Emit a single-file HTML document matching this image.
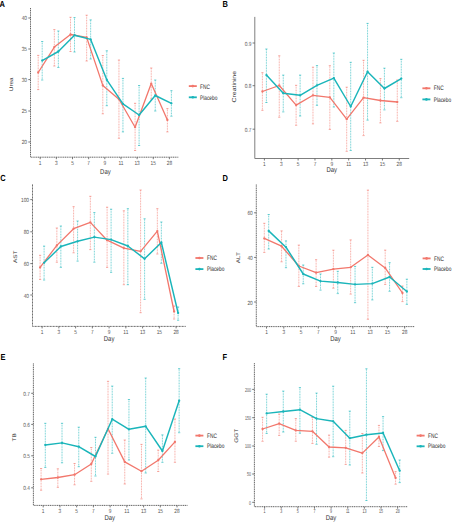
<!DOCTYPE html><html><head><meta charset="utf-8"><style>html,body{margin:0;padding:0;background:#fff;width:456px;height:525px;overflow:hidden}svg{display:block}text{font-family:"Liberation Sans",sans-serif;text-rendering:geometricPrecision}</style></head><body>
<svg width="456" height="525" viewBox="0 0 456 525">
<rect width="456" height="525" fill="#fff"/>
<line x1="38.2" y1="55.4" x2="38.2" y2="89.6" stroke="#F2776C" stroke-width="0.65" stroke-dasharray="0.9 0.7"/><path d="M37.1 55.4H39.3M37.1 89.6H39.3" stroke="#F2776C" stroke-width="0.6"/><line x1="54.35" y1="29.6" x2="54.35" y2="66" stroke="#F2776C" stroke-width="0.65" stroke-dasharray="0.9 0.7"/><path d="M53.25 29.6H55.45M53.25 66H55.45" stroke="#F2776C" stroke-width="0.6"/><line x1="70.5" y1="17.3" x2="70.5" y2="51.5" stroke="#F2776C" stroke-width="0.65" stroke-dasharray="0.9 0.7"/><path d="M69.4 17.3H71.6M69.4 51.5H71.6" stroke="#F2776C" stroke-width="0.6"/><line x1="86.65" y1="15.2" x2="86.65" y2="61" stroke="#F2776C" stroke-width="0.65" stroke-dasharray="0.9 0.7"/><path d="M85.55 15.2H87.75M85.55 61H87.75" stroke="#F2776C" stroke-width="0.6"/><line x1="102.8" y1="55.5" x2="102.8" y2="113.8" stroke="#F2776C" stroke-width="0.65" stroke-dasharray="0.9 0.7"/><path d="M101.7 55.5H103.9M101.7 113.8H103.9" stroke="#F2776C" stroke-width="0.6"/><line x1="118.95" y1="60" x2="118.95" y2="138.3" stroke="#F2776C" stroke-width="0.65" stroke-dasharray="0.9 0.7"/><path d="M117.85 60H120.05M117.85 138.3H120.05" stroke="#F2776C" stroke-width="0.6"/><line x1="135.1" y1="103.3" x2="135.1" y2="150.5" stroke="#F2776C" stroke-width="0.65" stroke-dasharray="0.9 0.7"/><path d="M134 103.3H136.2M134 150.5H136.2" stroke="#F2776C" stroke-width="0.6"/><line x1="151.25" y1="68" x2="151.25" y2="99" stroke="#F2776C" stroke-width="0.65" stroke-dasharray="0.9 0.7"/><path d="M150.15 68H152.35M150.15 99H152.35" stroke="#F2776C" stroke-width="0.6"/><line x1="167.4" y1="108.6" x2="167.4" y2="131.9" stroke="#F2776C" stroke-width="0.65" stroke-dasharray="0.9 0.7"/><path d="M166.3 108.6H168.5M166.3 131.9H168.5" stroke="#F2776C" stroke-width="0.6"/><line x1="42.2" y1="41.5" x2="42.2" y2="80" stroke="#1AB5BA" stroke-width="0.65" stroke-dasharray="0.9 0.7"/><path d="M41.1 41.5H43.3M41.1 80H43.3" stroke="#1AB5BA" stroke-width="0.6"/><line x1="58.35" y1="31" x2="58.35" y2="67.5" stroke="#1AB5BA" stroke-width="0.65" stroke-dasharray="0.9 0.7"/><path d="M57.25 31H59.45M57.25 67.5H59.45" stroke="#1AB5BA" stroke-width="0.6"/><line x1="74.5" y1="17.6" x2="74.5" y2="52" stroke="#1AB5BA" stroke-width="0.65" stroke-dasharray="0.9 0.7"/><path d="M73.4 17.6H75.6M73.4 52H75.6" stroke="#1AB5BA" stroke-width="0.6"/><line x1="90.65" y1="19.9" x2="90.65" y2="59" stroke="#1AB5BA" stroke-width="0.65" stroke-dasharray="0.9 0.7"/><path d="M89.55 19.9H91.75M89.55 59H91.75" stroke="#1AB5BA" stroke-width="0.6"/><line x1="106.8" y1="50.8" x2="106.8" y2="105.7" stroke="#1AB5BA" stroke-width="0.65" stroke-dasharray="0.9 0.7"/><path d="M105.7 50.8H107.9M105.7 105.7H107.9" stroke="#1AB5BA" stroke-width="0.6"/><line x1="122.95" y1="78.4" x2="122.95" y2="131.9" stroke="#1AB5BA" stroke-width="0.65" stroke-dasharray="0.9 0.7"/><path d="M121.85 78.4H124.05M121.85 131.9H124.05" stroke="#1AB5BA" stroke-width="0.6"/><line x1="139.1" y1="85.5" x2="139.1" y2="145.5" stroke="#1AB5BA" stroke-width="0.65" stroke-dasharray="0.9 0.7"/><path d="M138 85.5H140.2M138 145.5H140.2" stroke="#1AB5BA" stroke-width="0.6"/><line x1="155.25" y1="80" x2="155.25" y2="111" stroke="#1AB5BA" stroke-width="0.65" stroke-dasharray="0.9 0.7"/><path d="M154.15 80H156.35M154.15 111H156.35" stroke="#1AB5BA" stroke-width="0.6"/><line x1="171.4" y1="90.7" x2="171.4" y2="116.2" stroke="#1AB5BA" stroke-width="0.65" stroke-dasharray="0.9 0.7"/><path d="M170.3 90.7H172.5M170.3 116.2H172.5" stroke="#1AB5BA" stroke-width="0.6"/><polyline points="38.2,72.5 54.35,47.1 70.5,34.5 86.65,37.4 102.8,85.4 118.95,99.2 135.1,127.2 151.25,83.6 167.4,120" fill="none" stroke="#F2776C" stroke-width="1.3" stroke-linejoin="round"/><circle cx="38.2" cy="72.5" r="1.15" fill="#F2776C"/><circle cx="54.35" cy="47.1" r="1.15" fill="#F2776C"/><circle cx="70.5" cy="34.5" r="1.15" fill="#F2776C"/><circle cx="86.65" cy="37.4" r="1.15" fill="#F2776C"/><circle cx="102.8" cy="85.4" r="1.15" fill="#F2776C"/><circle cx="118.95" cy="99.2" r="1.15" fill="#F2776C"/><circle cx="135.1" cy="127.2" r="1.15" fill="#F2776C"/><circle cx="151.25" cy="83.6" r="1.15" fill="#F2776C"/><circle cx="167.4" cy="120" r="1.15" fill="#F2776C"/><polyline points="42.2,60.6 58.35,51.5 74.5,35.2 90.65,39.4 106.8,79.8 122.95,103.8 139.1,115 155.25,95.5 171.4,103.3" fill="none" stroke="#1AB5BA" stroke-width="1.45" stroke-linejoin="round"/><circle cx="42.2" cy="60.6" r="1.15" fill="#1AB5BA"/><circle cx="58.35" cy="51.5" r="1.15" fill="#1AB5BA"/><circle cx="74.5" cy="35.2" r="1.15" fill="#1AB5BA"/><circle cx="90.65" cy="39.4" r="1.15" fill="#1AB5BA"/><circle cx="106.8" cy="79.8" r="1.15" fill="#1AB5BA"/><circle cx="122.95" cy="103.8" r="1.15" fill="#1AB5BA"/><circle cx="139.1" cy="115" r="1.15" fill="#1AB5BA"/><circle cx="155.25" cy="95.5" r="1.15" fill="#1AB5BA"/><circle cx="171.4" cy="103.3" r="1.15" fill="#1AB5BA"/><path d="M30.5 8V157.2H178.6" fill="none" stroke="#555555" stroke-width="0.9" stroke-dasharray="1.2 0.6"/><line x1="28.3" y1="18" x2="30.5" y2="18" stroke="#555555" stroke-width="0.8"/><text transform="translate(27,19.9) scale(0.8,1)" font-size="6.0" fill="#555555" text-anchor="end">40</text><line x1="28.3" y1="49" x2="30.5" y2="49" stroke="#555555" stroke-width="0.8"/><text transform="translate(27,50.9) scale(0.8,1)" font-size="6.0" fill="#555555" text-anchor="end">35</text><line x1="28.3" y1="79.6" x2="30.5" y2="79.6" stroke="#555555" stroke-width="0.8"/><text transform="translate(27,81.5) scale(0.8,1)" font-size="6.0" fill="#555555" text-anchor="end">30</text><line x1="28.3" y1="111" x2="30.5" y2="111" stroke="#555555" stroke-width="0.8"/><text transform="translate(27,112.9) scale(0.8,1)" font-size="6.0" fill="#555555" text-anchor="end">25</text><line x1="28.3" y1="142" x2="30.5" y2="142" stroke="#555555" stroke-width="0.8"/><text transform="translate(27,143.9) scale(0.8,1)" font-size="6.0" fill="#555555" text-anchor="end">20</text><line x1="40.2" y1="157.2" x2="40.2" y2="159.2" stroke="#555555" stroke-width="0.8"/><text transform="translate(40.2,164.8) scale(0.8,1)" font-size="6.0" fill="#555555" text-anchor="middle">1</text><line x1="56.35" y1="157.2" x2="56.35" y2="159.2" stroke="#555555" stroke-width="0.8"/><text transform="translate(56.35,164.8) scale(0.8,1)" font-size="6.0" fill="#555555" text-anchor="middle">3</text><line x1="72.5" y1="157.2" x2="72.5" y2="159.2" stroke="#555555" stroke-width="0.8"/><text transform="translate(72.5,164.8) scale(0.8,1)" font-size="6.0" fill="#555555" text-anchor="middle">5</text><line x1="88.65" y1="157.2" x2="88.65" y2="159.2" stroke="#555555" stroke-width="0.8"/><text transform="translate(88.65,164.8) scale(0.8,1)" font-size="6.0" fill="#555555" text-anchor="middle">7</text><line x1="104.8" y1="157.2" x2="104.8" y2="159.2" stroke="#555555" stroke-width="0.8"/><text transform="translate(104.8,164.8) scale(0.8,1)" font-size="6.0" fill="#555555" text-anchor="middle">9</text><line x1="120.95" y1="157.2" x2="120.95" y2="159.2" stroke="#555555" stroke-width="0.8"/><text transform="translate(120.95,164.8) scale(0.8,1)" font-size="6.0" fill="#555555" text-anchor="middle">11</text><line x1="137.1" y1="157.2" x2="137.1" y2="159.2" stroke="#555555" stroke-width="0.8"/><text transform="translate(137.1,164.8) scale(0.8,1)" font-size="6.0" fill="#555555" text-anchor="middle">13</text><line x1="153.25" y1="157.2" x2="153.25" y2="159.2" stroke="#555555" stroke-width="0.8"/><text transform="translate(153.25,164.8) scale(0.8,1)" font-size="6.0" fill="#555555" text-anchor="middle">15</text><line x1="169.4" y1="157.2" x2="169.4" y2="159.2" stroke="#555555" stroke-width="0.8"/><text transform="translate(169.4,164.8) scale(0.8,1)" font-size="6.0" fill="#555555" text-anchor="middle">28</text><text transform="translate(105.4,173.8) scale(0.85,1)" font-size="7" fill="#333" text-anchor="middle">Day</text><text transform="translate(12.8,84.3) scale(0.82,1) rotate(-90)" font-size="6.4" fill="#333" text-anchor="middle">Urea</text><text transform="translate(-0.6,6.6) scale(0.85,1)" font-size="8.8" font-weight="bold" fill="#000">A</text><line x1="188.8" y1="86.1" x2="196.8" y2="86.1" stroke="#F2776C" stroke-width="1.8"/><circle cx="192.8" cy="86.1" r="1.3" fill="#F2776C"/><text transform="translate(200,88.7) scale(0.75,1)" font-size="6.4" fill="#2a2a2a">FNC</text><line x1="188.8" y1="97.3" x2="196.8" y2="97.3" stroke="#1AB5BA" stroke-width="1.8"/><circle cx="192.8" cy="97.3" r="1.3" fill="#1AB5BA"/><text transform="translate(200,99.9) scale(0.75,1)" font-size="6.4" fill="#2a2a2a">Placebo</text>
<line x1="262.4" y1="72.7" x2="262.4" y2="110.3" stroke="#F2776C" stroke-width="0.65" stroke-dasharray="0.9 0.7"/><path d="M261.3 72.7H263.5M261.3 110.3H263.5" stroke="#F2776C" stroke-width="0.6"/><line x1="279.26" y1="55.8" x2="279.26" y2="117.2" stroke="#F2776C" stroke-width="0.65" stroke-dasharray="0.9 0.7"/><path d="M278.16 55.8H280.36M278.16 117.2H280.36" stroke="#F2776C" stroke-width="0.6"/><line x1="296.12" y1="85.3" x2="296.12" y2="125.3" stroke="#F2776C" stroke-width="0.65" stroke-dasharray="0.9 0.7"/><path d="M295.02 85.3H297.22M295.02 125.3H297.22" stroke="#F2776C" stroke-width="0.6"/><line x1="312.98" y1="67.2" x2="312.98" y2="123.9" stroke="#F2776C" stroke-width="0.65" stroke-dasharray="0.9 0.7"/><path d="M311.88 67.2H314.08M311.88 123.9H314.08" stroke="#F2776C" stroke-width="0.6"/><line x1="329.84" y1="65.7" x2="329.84" y2="129.5" stroke="#F2776C" stroke-width="0.65" stroke-dasharray="0.9 0.7"/><path d="M328.74 65.7H330.94M328.74 129.5H330.94" stroke="#F2776C" stroke-width="0.6"/><line x1="346.7" y1="87.2" x2="346.7" y2="151.3" stroke="#F2776C" stroke-width="0.65" stroke-dasharray="0.9 0.7"/><path d="M345.6 87.2H347.8M345.6 151.3H347.8" stroke="#F2776C" stroke-width="0.6"/><line x1="363.56" y1="60.3" x2="363.56" y2="135.6" stroke="#F2776C" stroke-width="0.65" stroke-dasharray="0.9 0.7"/><path d="M362.46 60.3H364.66M362.46 135.6H364.66" stroke="#F2776C" stroke-width="0.6"/><line x1="380.42" y1="78.6" x2="380.42" y2="122.9" stroke="#F2776C" stroke-width="0.65" stroke-dasharray="0.9 0.7"/><path d="M379.32 78.6H381.52M379.32 122.9H381.52" stroke="#F2776C" stroke-width="0.6"/><line x1="397.28" y1="80" x2="397.28" y2="121.4" stroke="#F2776C" stroke-width="0.65" stroke-dasharray="0.9 0.7"/><path d="M396.18 80H398.38M396.18 121.4H398.38" stroke="#F2776C" stroke-width="0.6"/><line x1="266.4" y1="49" x2="266.4" y2="102.5" stroke="#1AB5BA" stroke-width="0.65" stroke-dasharray="0.9 0.7"/><path d="M265.3 49H267.5M265.3 102.5H267.5" stroke="#1AB5BA" stroke-width="0.6"/><line x1="283.26" y1="75.1" x2="283.26" y2="111.9" stroke="#1AB5BA" stroke-width="0.65" stroke-dasharray="0.9 0.7"/><path d="M282.16 75.1H284.36M282.16 111.9H284.36" stroke="#1AB5BA" stroke-width="0.6"/><line x1="300.12" y1="75.1" x2="300.12" y2="116" stroke="#1AB5BA" stroke-width="0.65" stroke-dasharray="0.9 0.7"/><path d="M299.02 75.1H301.22M299.02 116H301.22" stroke="#1AB5BA" stroke-width="0.6"/><line x1="316.98" y1="65.6" x2="316.98" y2="105.4" stroke="#1AB5BA" stroke-width="0.65" stroke-dasharray="0.9 0.7"/><path d="M315.88 65.6H318.08M315.88 105.4H318.08" stroke="#1AB5BA" stroke-width="0.6"/><line x1="333.84" y1="53" x2="333.84" y2="107" stroke="#1AB5BA" stroke-width="0.65" stroke-dasharray="0.9 0.7"/><path d="M332.74 53H334.94M332.74 107H334.94" stroke="#1AB5BA" stroke-width="0.6"/><line x1="350.7" y1="62.3" x2="350.7" y2="150.5" stroke="#1AB5BA" stroke-width="0.65" stroke-dasharray="0.9 0.7"/><path d="M349.6 62.3H351.8M349.6 150.5H351.8" stroke="#1AB5BA" stroke-width="0.6"/><line x1="367.56" y1="23.4" x2="367.56" y2="120.1" stroke="#1AB5BA" stroke-width="0.65" stroke-dasharray="0.9 0.7"/><path d="M366.46 23.4H368.66M366.46 120.1H368.66" stroke="#1AB5BA" stroke-width="0.6"/><line x1="384.42" y1="68.2" x2="384.42" y2="109.9" stroke="#1AB5BA" stroke-width="0.65" stroke-dasharray="0.9 0.7"/><path d="M383.32 68.2H385.52M383.32 109.9H385.52" stroke="#1AB5BA" stroke-width="0.6"/><line x1="401.28" y1="59.3" x2="401.28" y2="97.7" stroke="#1AB5BA" stroke-width="0.65" stroke-dasharray="0.9 0.7"/><path d="M400.18 59.3H402.38M400.18 97.7H402.38" stroke="#1AB5BA" stroke-width="0.6"/><polyline points="262.4,91.5 279.26,85.5 296.12,105.1 312.98,95.3 329.84,97.3 346.7,119.2 363.56,97.7 380.42,100.5 397.28,102" fill="none" stroke="#F2776C" stroke-width="1.3" stroke-linejoin="round"/><circle cx="262.4" cy="91.5" r="1.15" fill="#F2776C"/><circle cx="279.26" cy="85.5" r="1.15" fill="#F2776C"/><circle cx="296.12" cy="105.1" r="1.15" fill="#F2776C"/><circle cx="312.98" cy="95.3" r="1.15" fill="#F2776C"/><circle cx="329.84" cy="97.3" r="1.15" fill="#F2776C"/><circle cx="346.7" cy="119.2" r="1.15" fill="#F2776C"/><circle cx="363.56" cy="97.7" r="1.15" fill="#F2776C"/><circle cx="380.42" cy="100.5" r="1.15" fill="#F2776C"/><circle cx="397.28" cy="102" r="1.15" fill="#F2776C"/><polyline points="266.4,75.1 283.26,93.2 300.12,95.3 316.98,85.3 333.84,78.2 350.7,106.5 367.56,71.7 384.42,88.5 401.28,78.6" fill="none" stroke="#1AB5BA" stroke-width="1.45" stroke-linejoin="round"/><circle cx="266.4" cy="75.1" r="1.15" fill="#1AB5BA"/><circle cx="283.26" cy="93.2" r="1.15" fill="#1AB5BA"/><circle cx="300.12" cy="95.3" r="1.15" fill="#1AB5BA"/><circle cx="316.98" cy="85.3" r="1.15" fill="#1AB5BA"/><circle cx="333.84" cy="78.2" r="1.15" fill="#1AB5BA"/><circle cx="350.7" cy="106.5" r="1.15" fill="#1AB5BA"/><circle cx="367.56" cy="71.7" r="1.15" fill="#1AB5BA"/><circle cx="384.42" cy="88.5" r="1.15" fill="#1AB5BA"/><circle cx="401.28" cy="78.6" r="1.15" fill="#1AB5BA"/><path d="M254.8 16.9V158.5H409.2" fill="none" stroke="#707070" stroke-width="0.9" stroke-dasharray="none"/><line x1="252.6" y1="43" x2="254.8" y2="43" stroke="#555555" stroke-width="0.8"/><text transform="translate(251.3,45.6) scale(0.8,1)" font-size="6.0" fill="#555555" text-anchor="end">0.9</text><line x1="252.6" y1="85.7" x2="254.8" y2="85.7" stroke="#555555" stroke-width="0.8"/><text transform="translate(251.3,88.3) scale(0.8,1)" font-size="6.0" fill="#555555" text-anchor="end">0.8</text><line x1="252.6" y1="129.2" x2="254.8" y2="129.2" stroke="#555555" stroke-width="0.8"/><text transform="translate(251.3,131.8) scale(0.8,1)" font-size="6.0" fill="#555555" text-anchor="end">0.7</text><line x1="264.4" y1="158.5" x2="264.4" y2="160.5" stroke="#555555" stroke-width="0.8"/><text transform="translate(264.4,166.1) scale(0.8,1)" font-size="6.0" fill="#555555" text-anchor="middle">1</text><line x1="281.26" y1="158.5" x2="281.26" y2="160.5" stroke="#555555" stroke-width="0.8"/><text transform="translate(281.26,166.1) scale(0.8,1)" font-size="6.0" fill="#555555" text-anchor="middle">3</text><line x1="298.12" y1="158.5" x2="298.12" y2="160.5" stroke="#555555" stroke-width="0.8"/><text transform="translate(298.12,166.1) scale(0.8,1)" font-size="6.0" fill="#555555" text-anchor="middle">5</text><line x1="314.98" y1="158.5" x2="314.98" y2="160.5" stroke="#555555" stroke-width="0.8"/><text transform="translate(314.98,166.1) scale(0.8,1)" font-size="6.0" fill="#555555" text-anchor="middle">7</text><line x1="331.84" y1="158.5" x2="331.84" y2="160.5" stroke="#555555" stroke-width="0.8"/><text transform="translate(331.84,166.1) scale(0.8,1)" font-size="6.0" fill="#555555" text-anchor="middle">9</text><line x1="348.7" y1="158.5" x2="348.7" y2="160.5" stroke="#555555" stroke-width="0.8"/><text transform="translate(348.7,166.1) scale(0.8,1)" font-size="6.0" fill="#555555" text-anchor="middle">11</text><line x1="365.56" y1="158.5" x2="365.56" y2="160.5" stroke="#555555" stroke-width="0.8"/><text transform="translate(365.56,166.1) scale(0.8,1)" font-size="6.0" fill="#555555" text-anchor="middle">13</text><line x1="382.42" y1="158.5" x2="382.42" y2="160.5" stroke="#555555" stroke-width="0.8"/><text transform="translate(382.42,166.1) scale(0.8,1)" font-size="6.0" fill="#555555" text-anchor="middle">15</text><line x1="399.28" y1="158.5" x2="399.28" y2="160.5" stroke="#555555" stroke-width="0.8"/><text transform="translate(399.28,166.1) scale(0.8,1)" font-size="6.0" fill="#555555" text-anchor="middle">28</text><text transform="translate(331.7,172.4) scale(0.85,1)" font-size="7" fill="#333" text-anchor="middle">Day</text><text transform="translate(235.8,86.7) scale(0.82,1) rotate(-90)" font-size="6.9" fill="#333" text-anchor="middle">Creatinine</text><text transform="translate(222.6,7) scale(0.85,1)" font-size="8.8" font-weight="bold" fill="#000">B</text><line x1="422.4" y1="88.3" x2="430.4" y2="88.3" stroke="#F2776C" stroke-width="1.8"/><circle cx="426.4" cy="88.3" r="1.3" fill="#F2776C"/><text transform="translate(433.8,90.4) scale(0.75,1)" font-size="6.4" fill="#2a2a2a">FNC</text><line x1="422.4" y1="99.4" x2="430.4" y2="99.4" stroke="#1AB5BA" stroke-width="1.8"/><circle cx="426.4" cy="99.4" r="1.3" fill="#1AB5BA"/><text transform="translate(433.8,101.5) scale(0.75,1)" font-size="6.4" fill="#2a2a2a">Placebo</text>
<line x1="40.1" y1="255.3" x2="40.1" y2="279.5" stroke="#F2776C" stroke-width="0.65" stroke-dasharray="0.9 0.7"/><path d="M39 255.3H41.2M39 279.5H41.2" stroke="#F2776C" stroke-width="0.6"/><line x1="56.85" y1="228" x2="56.85" y2="262.2" stroke="#F2776C" stroke-width="0.65" stroke-dasharray="0.9 0.7"/><path d="M55.75 228H57.95M55.75 262.2H57.95" stroke="#F2776C" stroke-width="0.6"/><line x1="73.6" y1="206.7" x2="73.6" y2="252.8" stroke="#F2776C" stroke-width="0.65" stroke-dasharray="0.9 0.7"/><path d="M72.5 206.7H74.7M72.5 252.8H74.7" stroke="#F2776C" stroke-width="0.6"/><line x1="90.35" y1="196.3" x2="90.35" y2="249.6" stroke="#F2776C" stroke-width="0.65" stroke-dasharray="0.9 0.7"/><path d="M89.25 196.3H91.45M89.25 249.6H91.45" stroke="#F2776C" stroke-width="0.6"/><line x1="107.1" y1="207.2" x2="107.1" y2="267.4" stroke="#F2776C" stroke-width="0.65" stroke-dasharray="0.9 0.7"/><path d="M106 207.2H108.2M106 267.4H108.2" stroke="#F2776C" stroke-width="0.6"/><line x1="123.85" y1="210.8" x2="123.85" y2="284.7" stroke="#F2776C" stroke-width="0.65" stroke-dasharray="0.9 0.7"/><path d="M122.75 210.8H124.95M122.75 284.7H124.95" stroke="#F2776C" stroke-width="0.6"/><line x1="140.6" y1="190" x2="140.6" y2="312.7" stroke="#F2776C" stroke-width="0.65" stroke-dasharray="0.9 0.7"/><path d="M139.5 190H141.7M139.5 312.7H141.7" stroke="#F2776C" stroke-width="0.6"/><line x1="157.35" y1="208.7" x2="157.35" y2="254" stroke="#F2776C" stroke-width="0.65" stroke-dasharray="0.9 0.7"/><path d="M156.25 208.7H158.45M156.25 254H158.45" stroke="#F2776C" stroke-width="0.6"/><line x1="174.1" y1="306" x2="174.1" y2="319" stroke="#F2776C" stroke-width="0.65" stroke-dasharray="0.9 0.7"/><path d="M173 306H175.2M173 319H175.2" stroke="#F2776C" stroke-width="0.6"/><line x1="44.1" y1="246.1" x2="44.1" y2="280" stroke="#1AB5BA" stroke-width="0.65" stroke-dasharray="0.9 0.7"/><path d="M43 246.1H45.2M43 280H45.2" stroke="#1AB5BA" stroke-width="0.6"/><line x1="60.85" y1="226" x2="60.85" y2="267.4" stroke="#1AB5BA" stroke-width="0.65" stroke-dasharray="0.9 0.7"/><path d="M59.75 226H61.95M59.75 267.4H61.95" stroke="#1AB5BA" stroke-width="0.6"/><line x1="77.6" y1="221" x2="77.6" y2="261.1" stroke="#1AB5BA" stroke-width="0.65" stroke-dasharray="0.9 0.7"/><path d="M76.5 221H78.7M76.5 261.1H78.7" stroke="#1AB5BA" stroke-width="0.6"/><line x1="94.35" y1="212.6" x2="94.35" y2="262.2" stroke="#1AB5BA" stroke-width="0.65" stroke-dasharray="0.9 0.7"/><path d="M93.25 212.6H95.45M93.25 262.2H95.45" stroke="#1AB5BA" stroke-width="0.6"/><line x1="111.1" y1="209.2" x2="111.1" y2="272.3" stroke="#1AB5BA" stroke-width="0.65" stroke-dasharray="0.9 0.7"/><path d="M110 209.2H112.2M110 272.3H112.2" stroke="#1AB5BA" stroke-width="0.6"/><line x1="127.85" y1="208.7" x2="127.85" y2="284.7" stroke="#1AB5BA" stroke-width="0.65" stroke-dasharray="0.9 0.7"/><path d="M126.75 208.7H128.95M126.75 284.7H128.95" stroke="#1AB5BA" stroke-width="0.6"/><line x1="144.6" y1="218.8" x2="144.6" y2="299.3" stroke="#1AB5BA" stroke-width="0.65" stroke-dasharray="0.9 0.7"/><path d="M143.5 218.8H145.7M143.5 299.3H145.7" stroke="#1AB5BA" stroke-width="0.6"/><line x1="161.35" y1="222" x2="161.35" y2="263.3" stroke="#1AB5BA" stroke-width="0.65" stroke-dasharray="0.9 0.7"/><path d="M160.25 222H162.45M160.25 263.3H162.45" stroke="#1AB5BA" stroke-width="0.6"/><line x1="178.1" y1="307" x2="178.1" y2="320.2" stroke="#1AB5BA" stroke-width="0.65" stroke-dasharray="0.9 0.7"/><path d="M177 307H179.2M177 320.2H179.2" stroke="#1AB5BA" stroke-width="0.6"/><polyline points="40.1,267.4 56.85,245.4 73.6,228.7 90.35,222.4 107.1,240.2 123.85,248.1 140.6,251.3 157.35,231.1 174.1,311.5" fill="none" stroke="#F2776C" stroke-width="1.3" stroke-linejoin="round"/><circle cx="40.1" cy="267.4" r="1.15" fill="#F2776C"/><circle cx="56.85" cy="245.4" r="1.15" fill="#F2776C"/><circle cx="73.6" cy="228.7" r="1.15" fill="#F2776C"/><circle cx="90.35" cy="222.4" r="1.15" fill="#F2776C"/><circle cx="107.1" cy="240.2" r="1.15" fill="#F2776C"/><circle cx="123.85" cy="248.1" r="1.15" fill="#F2776C"/><circle cx="140.6" cy="251.3" r="1.15" fill="#F2776C"/><circle cx="157.35" cy="231.1" r="1.15" fill="#F2776C"/><circle cx="174.1" cy="311.5" r="1.15" fill="#F2776C"/><polyline points="44.1,262.8 60.85,246.5 77.6,241.3 94.35,237.1 111.1,239.6 127.85,246 144.6,258.8 161.35,242.5 178.1,313" fill="none" stroke="#1AB5BA" stroke-width="1.45" stroke-linejoin="round"/><circle cx="44.1" cy="262.8" r="1.15" fill="#1AB5BA"/><circle cx="60.85" cy="246.5" r="1.15" fill="#1AB5BA"/><circle cx="77.6" cy="241.3" r="1.15" fill="#1AB5BA"/><circle cx="94.35" cy="237.1" r="1.15" fill="#1AB5BA"/><circle cx="111.1" cy="239.6" r="1.15" fill="#1AB5BA"/><circle cx="127.85" cy="246" r="1.15" fill="#1AB5BA"/><circle cx="144.6" cy="258.8" r="1.15" fill="#1AB5BA"/><circle cx="161.35" cy="242.5" r="1.15" fill="#1AB5BA"/><circle cx="178.1" cy="313" r="1.15" fill="#1AB5BA"/><path d="M32.5 184.4V326.4H185.8" fill="none" stroke="#606060" stroke-width="0.9" stroke-dasharray="2.2 0.8"/><line x1="30.3" y1="199.6" x2="32.5" y2="199.6" stroke="#555555" stroke-width="0.8"/><text transform="translate(29,202.2) scale(0.8,1)" font-size="6.0" fill="#555555" text-anchor="end">100</text><line x1="30.3" y1="231.8" x2="32.5" y2="231.8" stroke="#555555" stroke-width="0.8"/><text transform="translate(29,234.4) scale(0.8,1)" font-size="6.0" fill="#555555" text-anchor="end">80</text><line x1="30.3" y1="263.6" x2="32.5" y2="263.6" stroke="#555555" stroke-width="0.8"/><text transform="translate(29,266.2) scale(0.8,1)" font-size="6.0" fill="#555555" text-anchor="end">60</text><line x1="30.3" y1="295" x2="32.5" y2="295" stroke="#555555" stroke-width="0.8"/><text transform="translate(29,297.6) scale(0.8,1)" font-size="6.0" fill="#555555" text-anchor="end">40</text><line x1="42.1" y1="326.4" x2="42.1" y2="328.4" stroke="#555555" stroke-width="0.8"/><text transform="translate(42.1,334) scale(0.8,1)" font-size="6.0" fill="#555555" text-anchor="middle">1</text><line x1="58.85" y1="326.4" x2="58.85" y2="328.4" stroke="#555555" stroke-width="0.8"/><text transform="translate(58.85,334) scale(0.8,1)" font-size="6.0" fill="#555555" text-anchor="middle">3</text><line x1="75.6" y1="326.4" x2="75.6" y2="328.4" stroke="#555555" stroke-width="0.8"/><text transform="translate(75.6,334) scale(0.8,1)" font-size="6.0" fill="#555555" text-anchor="middle">5</text><line x1="92.35" y1="326.4" x2="92.35" y2="328.4" stroke="#555555" stroke-width="0.8"/><text transform="translate(92.35,334) scale(0.8,1)" font-size="6.0" fill="#555555" text-anchor="middle">7</text><line x1="109.1" y1="326.4" x2="109.1" y2="328.4" stroke="#555555" stroke-width="0.8"/><text transform="translate(109.1,334) scale(0.8,1)" font-size="6.0" fill="#555555" text-anchor="middle">9</text><line x1="125.85" y1="326.4" x2="125.85" y2="328.4" stroke="#555555" stroke-width="0.8"/><text transform="translate(125.85,334) scale(0.8,1)" font-size="6.0" fill="#555555" text-anchor="middle">11</text><line x1="142.6" y1="326.4" x2="142.6" y2="328.4" stroke="#555555" stroke-width="0.8"/><text transform="translate(142.6,334) scale(0.8,1)" font-size="6.0" fill="#555555" text-anchor="middle">13</text><line x1="159.35" y1="326.4" x2="159.35" y2="328.4" stroke="#555555" stroke-width="0.8"/><text transform="translate(159.35,334) scale(0.8,1)" font-size="6.0" fill="#555555" text-anchor="middle">15</text><line x1="176.1" y1="326.4" x2="176.1" y2="328.4" stroke="#555555" stroke-width="0.8"/><text transform="translate(176.1,334) scale(0.8,1)" font-size="6.0" fill="#555555" text-anchor="middle">28</text><text transform="translate(109.1,341.2) scale(0.85,1)" font-size="7" fill="#333" text-anchor="middle">Day</text><text transform="translate(16.8,256.9) scale(0.82,1) rotate(-90)" font-size="6.4" fill="#333" text-anchor="middle">AST</text><text transform="translate(0.3,180.9) scale(0.85,1)" font-size="8.8" font-weight="bold" fill="#000">C</text><line x1="195.4" y1="258" x2="203.4" y2="258" stroke="#F2776C" stroke-width="1.8"/><circle cx="199.4" cy="258" r="1.3" fill="#F2776C"/><text transform="translate(207,260.1) scale(0.75,1)" font-size="6.4" fill="#2a2a2a">FNC</text><line x1="195.4" y1="269.1" x2="203.4" y2="269.1" stroke="#1AB5BA" stroke-width="1.8"/><circle cx="199.4" cy="269.1" r="1.3" fill="#1AB5BA"/><text transform="translate(207,271.2) scale(0.75,1)" font-size="6.4" fill="#2a2a2a">Placebo</text>
<line x1="264.3" y1="223.3" x2="264.3" y2="252.4" stroke="#F2776C" stroke-width="0.65" stroke-dasharray="0.9 0.7"/><path d="M263.2 223.3H265.4M263.2 252.4H265.4" stroke="#F2776C" stroke-width="0.6"/><line x1="281.57" y1="230.9" x2="281.57" y2="261.8" stroke="#F2776C" stroke-width="0.65" stroke-dasharray="0.9 0.7"/><path d="M280.47 230.9H282.67M280.47 261.8H282.67" stroke="#F2776C" stroke-width="0.6"/><line x1="298.84" y1="245.1" x2="298.84" y2="286.5" stroke="#F2776C" stroke-width="0.65" stroke-dasharray="0.9 0.7"/><path d="M297.74 245.1H299.94M297.74 286.5H299.94" stroke="#F2776C" stroke-width="0.6"/><line x1="316.11" y1="259.7" x2="316.11" y2="286.5" stroke="#F2776C" stroke-width="0.65" stroke-dasharray="0.9 0.7"/><path d="M315.01 259.7H317.21M315.01 286.5H317.21" stroke="#F2776C" stroke-width="0.6"/><line x1="333.38" y1="250.2" x2="333.38" y2="288.2" stroke="#F2776C" stroke-width="0.65" stroke-dasharray="0.9 0.7"/><path d="M332.28 250.2H334.48M332.28 288.2H334.48" stroke="#F2776C" stroke-width="0.6"/><line x1="350.65" y1="239.9" x2="350.65" y2="294.1" stroke="#F2776C" stroke-width="0.65" stroke-dasharray="0.9 0.7"/><path d="M349.55 239.9H351.75M349.55 294.1H351.75" stroke="#F2776C" stroke-width="0.6"/><line x1="367.92" y1="190.1" x2="367.92" y2="319.3" stroke="#F2776C" stroke-width="0.65" stroke-dasharray="0.9 0.7"/><path d="M366.82 190.1H369.02M366.82 319.3H369.02" stroke="#F2776C" stroke-width="0.6"/><line x1="385.19" y1="250.1" x2="385.19" y2="284.4" stroke="#F2776C" stroke-width="0.65" stroke-dasharray="0.9 0.7"/><path d="M384.09 250.1H386.29M384.09 284.4H386.29" stroke="#F2776C" stroke-width="0.6"/><line x1="402.46" y1="286" x2="402.46" y2="301.6" stroke="#F2776C" stroke-width="0.65" stroke-dasharray="0.9 0.7"/><path d="M401.36 286H403.56M401.36 301.6H403.56" stroke="#F2776C" stroke-width="0.6"/><line x1="268.7" y1="214.5" x2="268.7" y2="249" stroke="#1AB5BA" stroke-width="0.65" stroke-dasharray="0.9 0.7"/><path d="M267.6 214.5H269.8M267.6 249H269.8" stroke="#1AB5BA" stroke-width="0.6"/><line x1="285.97" y1="240.9" x2="285.97" y2="267.7" stroke="#1AB5BA" stroke-width="0.65" stroke-dasharray="0.9 0.7"/><path d="M284.87 240.9H287.07M284.87 267.7H287.07" stroke="#1AB5BA" stroke-width="0.6"/><line x1="303.24" y1="265" x2="303.24" y2="283.8" stroke="#1AB5BA" stroke-width="0.65" stroke-dasharray="0.9 0.7"/><path d="M302.14 265H304.34M302.14 283.8H304.34" stroke="#1AB5BA" stroke-width="0.6"/><line x1="320.51" y1="274" x2="320.51" y2="290.1" stroke="#1AB5BA" stroke-width="0.65" stroke-dasharray="0.9 0.7"/><path d="M319.41 274H321.61M319.41 290.1H321.61" stroke="#1AB5BA" stroke-width="0.6"/><line x1="337.78" y1="271.3" x2="337.78" y2="293.6" stroke="#1AB5BA" stroke-width="0.65" stroke-dasharray="0.9 0.7"/><path d="M336.68 271.3H338.88M336.68 293.6H338.88" stroke="#1AB5BA" stroke-width="0.6"/><line x1="355.05" y1="266.4" x2="355.05" y2="302.7" stroke="#1AB5BA" stroke-width="0.65" stroke-dasharray="0.9 0.7"/><path d="M353.95 266.4H356.15M353.95 302.7H356.15" stroke="#1AB5BA" stroke-width="0.6"/><line x1="372.32" y1="267.3" x2="372.32" y2="299.9" stroke="#1AB5BA" stroke-width="0.65" stroke-dasharray="0.9 0.7"/><path d="M371.22 267.3H373.42M371.22 299.9H373.42" stroke="#1AB5BA" stroke-width="0.6"/><line x1="389.59" y1="262.7" x2="389.59" y2="291.3" stroke="#1AB5BA" stroke-width="0.65" stroke-dasharray="0.9 0.7"/><path d="M388.49 262.7H390.69M388.49 291.3H390.69" stroke="#1AB5BA" stroke-width="0.6"/><line x1="406.86" y1="279.2" x2="406.86" y2="304.4" stroke="#1AB5BA" stroke-width="0.65" stroke-dasharray="0.9 0.7"/><path d="M405.76 279.2H407.96M405.76 304.4H407.96" stroke="#1AB5BA" stroke-width="0.6"/><polyline points="264.3,238.4 281.57,246.2 298.84,266 316.11,272.7 333.38,269.2 350.65,267.3 367.92,255 385.19,267.9 402.46,293" fill="none" stroke="#F2776C" stroke-width="1.3" stroke-linejoin="round"/><circle cx="264.3" cy="238.4" r="1.15" fill="#F2776C"/><circle cx="281.57" cy="246.2" r="1.15" fill="#F2776C"/><circle cx="298.84" cy="266" r="1.15" fill="#F2776C"/><circle cx="316.11" cy="272.7" r="1.15" fill="#F2776C"/><circle cx="333.38" cy="269.2" r="1.15" fill="#F2776C"/><circle cx="350.65" cy="267.3" r="1.15" fill="#F2776C"/><circle cx="367.92" cy="255" r="1.15" fill="#F2776C"/><circle cx="385.19" cy="267.9" r="1.15" fill="#F2776C"/><circle cx="402.46" cy="293" r="1.15" fill="#F2776C"/><polyline points="268.7,230.9 285.97,247.2 303.24,274 320.51,281.1 337.78,282.5 355.05,284.4 372.32,283.6 389.59,277 406.86,291.5" fill="none" stroke="#1AB5BA" stroke-width="1.45" stroke-linejoin="round"/><circle cx="268.7" cy="230.9" r="1.15" fill="#1AB5BA"/><circle cx="285.97" cy="247.2" r="1.15" fill="#1AB5BA"/><circle cx="303.24" cy="274" r="1.15" fill="#1AB5BA"/><circle cx="320.51" cy="281.1" r="1.15" fill="#1AB5BA"/><circle cx="337.78" cy="282.5" r="1.15" fill="#1AB5BA"/><circle cx="355.05" cy="284.4" r="1.15" fill="#1AB5BA"/><circle cx="372.32" cy="283.6" r="1.15" fill="#1AB5BA"/><circle cx="389.59" cy="277" r="1.15" fill="#1AB5BA"/><circle cx="406.86" cy="291.5" r="1.15" fill="#1AB5BA"/><path d="M256.3 184.5V326.6H414.4" fill="none" stroke="#555555" stroke-width="0.9" stroke-dasharray="1.2 0.6"/><line x1="254.1" y1="212.8" x2="256.3" y2="212.8" stroke="#555555" stroke-width="0.8"/><text transform="translate(252.8,215.4) scale(0.8,1)" font-size="6.0" fill="#555555" text-anchor="end">60</text><line x1="254.1" y1="257.4" x2="256.3" y2="257.4" stroke="#555555" stroke-width="0.8"/><text transform="translate(252.8,260) scale(0.8,1)" font-size="6.0" fill="#555555" text-anchor="end">40</text><line x1="254.1" y1="302" x2="256.3" y2="302" stroke="#555555" stroke-width="0.8"/><text transform="translate(252.8,304.6) scale(0.8,1)" font-size="6.0" fill="#555555" text-anchor="end">20</text><line x1="266.5" y1="326.6" x2="266.5" y2="328.6" stroke="#555555" stroke-width="0.8"/><text transform="translate(266.5,334.2) scale(0.8,1)" font-size="6.0" fill="#555555" text-anchor="middle">1</text><line x1="283.77" y1="326.6" x2="283.77" y2="328.6" stroke="#555555" stroke-width="0.8"/><text transform="translate(283.77,334.2) scale(0.8,1)" font-size="6.0" fill="#555555" text-anchor="middle">3</text><line x1="301.04" y1="326.6" x2="301.04" y2="328.6" stroke="#555555" stroke-width="0.8"/><text transform="translate(301.04,334.2) scale(0.8,1)" font-size="6.0" fill="#555555" text-anchor="middle">5</text><line x1="318.31" y1="326.6" x2="318.31" y2="328.6" stroke="#555555" stroke-width="0.8"/><text transform="translate(318.31,334.2) scale(0.8,1)" font-size="6.0" fill="#555555" text-anchor="middle">7</text><line x1="335.58" y1="326.6" x2="335.58" y2="328.6" stroke="#555555" stroke-width="0.8"/><text transform="translate(335.58,334.2) scale(0.8,1)" font-size="6.0" fill="#555555" text-anchor="middle">9</text><line x1="352.85" y1="326.6" x2="352.85" y2="328.6" stroke="#555555" stroke-width="0.8"/><text transform="translate(352.85,334.2) scale(0.8,1)" font-size="6.0" fill="#555555" text-anchor="middle">11</text><line x1="370.12" y1="326.6" x2="370.12" y2="328.6" stroke="#555555" stroke-width="0.8"/><text transform="translate(370.12,334.2) scale(0.8,1)" font-size="6.0" fill="#555555" text-anchor="middle">13</text><line x1="387.39" y1="326.6" x2="387.39" y2="328.6" stroke="#555555" stroke-width="0.8"/><text transform="translate(387.39,334.2) scale(0.8,1)" font-size="6.0" fill="#555555" text-anchor="middle">15</text><line x1="404.66" y1="326.6" x2="404.66" y2="328.6" stroke="#555555" stroke-width="0.8"/><text transform="translate(404.66,334.2) scale(0.8,1)" font-size="6.0" fill="#555555" text-anchor="middle">28</text><text transform="translate(335.5,341.2) scale(0.85,1)" font-size="7" fill="#333" text-anchor="middle">Day</text><text transform="translate(240.1,257.6) scale(0.82,1) rotate(-90)" font-size="6.4" fill="#333" text-anchor="middle">ALT</text><text transform="translate(222.6,180.9) scale(0.85,1)" font-size="8.8" font-weight="bold" fill="#000">D</text><line x1="422.6" y1="258.4" x2="430.6" y2="258.4" stroke="#F2776C" stroke-width="1.8"/><circle cx="426.6" cy="258.4" r="1.3" fill="#F2776C"/><text transform="translate(434,260.5) scale(0.75,1)" font-size="6.4" fill="#2a2a2a">FNC</text><line x1="422.6" y1="269" x2="430.6" y2="269" stroke="#1AB5BA" stroke-width="1.8"/><circle cx="426.6" cy="269" r="1.3" fill="#1AB5BA"/><text transform="translate(434,271.1) scale(0.75,1)" font-size="6.4" fill="#2a2a2a">Placebo</text>
<line x1="41.1" y1="468.5" x2="41.1" y2="490.2" stroke="#F2776C" stroke-width="0.65" stroke-dasharray="0.9 0.7"/><path d="M40 468.5H42.2M40 490.2H42.2" stroke="#F2776C" stroke-width="0.6"/><line x1="57.83" y1="468.8" x2="57.83" y2="487.3" stroke="#F2776C" stroke-width="0.65" stroke-dasharray="0.9 0.7"/><path d="M56.73 468.8H58.93M56.73 487.3H58.93" stroke="#F2776C" stroke-width="0.6"/><line x1="74.56" y1="463.5" x2="74.56" y2="484.8" stroke="#F2776C" stroke-width="0.65" stroke-dasharray="0.9 0.7"/><path d="M73.46 463.5H75.66M73.46 484.8H75.66" stroke="#F2776C" stroke-width="0.6"/><line x1="91.29" y1="447.5" x2="91.29" y2="481.3" stroke="#F2776C" stroke-width="0.65" stroke-dasharray="0.9 0.7"/><path d="M90.19 447.5H92.39M90.19 481.3H92.39" stroke="#F2776C" stroke-width="0.6"/><line x1="108.02" y1="381.3" x2="108.02" y2="474.1" stroke="#F2776C" stroke-width="0.65" stroke-dasharray="0.9 0.7"/><path d="M106.92 381.3H109.12M106.92 474.1H109.12" stroke="#F2776C" stroke-width="0.6"/><line x1="124.75" y1="440" x2="124.75" y2="484" stroke="#F2776C" stroke-width="0.65" stroke-dasharray="0.9 0.7"/><path d="M123.65 440H125.85M123.65 484H125.85" stroke="#F2776C" stroke-width="0.6"/><line x1="141.48" y1="444.4" x2="141.48" y2="498.9" stroke="#F2776C" stroke-width="0.65" stroke-dasharray="0.9 0.7"/><path d="M140.38 444.4H142.58M140.38 498.9H142.58" stroke="#F2776C" stroke-width="0.6"/><line x1="158.21" y1="450.1" x2="158.21" y2="471.5" stroke="#F2776C" stroke-width="0.65" stroke-dasharray="0.9 0.7"/><path d="M157.11 450.1H159.31M157.11 471.5H159.31" stroke="#F2776C" stroke-width="0.6"/><line x1="174.94" y1="419" x2="174.94" y2="462.3" stroke="#F2776C" stroke-width="0.65" stroke-dasharray="0.9 0.7"/><path d="M173.84 419H176.04M173.84 462.3H176.04" stroke="#F2776C" stroke-width="0.6"/><line x1="45.3" y1="423.3" x2="45.3" y2="467.4" stroke="#1AB5BA" stroke-width="0.65" stroke-dasharray="0.9 0.7"/><path d="M44.2 423.3H46.4M44.2 467.4H46.4" stroke="#1AB5BA" stroke-width="0.6"/><line x1="62.03" y1="423.3" x2="62.03" y2="462.8" stroke="#1AB5BA" stroke-width="0.65" stroke-dasharray="0.9 0.7"/><path d="M60.93 423.3H63.13M60.93 462.8H63.13" stroke="#1AB5BA" stroke-width="0.6"/><line x1="78.76" y1="427.2" x2="78.76" y2="466.7" stroke="#1AB5BA" stroke-width="0.65" stroke-dasharray="0.9 0.7"/><path d="M77.66 427.2H79.86M77.66 466.7H79.86" stroke="#1AB5BA" stroke-width="0.6"/><line x1="95.49" y1="437.3" x2="95.49" y2="476" stroke="#1AB5BA" stroke-width="0.65" stroke-dasharray="0.9 0.7"/><path d="M94.39 437.3H96.59M94.39 476H96.59" stroke="#1AB5BA" stroke-width="0.6"/><line x1="112.22" y1="386.1" x2="112.22" y2="453.3" stroke="#1AB5BA" stroke-width="0.65" stroke-dasharray="0.9 0.7"/><path d="M111.12 386.1H113.32M111.12 453.3H113.32" stroke="#1AB5BA" stroke-width="0.6"/><line x1="128.95" y1="399.5" x2="128.95" y2="460" stroke="#1AB5BA" stroke-width="0.65" stroke-dasharray="0.9 0.7"/><path d="M127.85 399.5H130.05M127.85 460H130.05" stroke="#1AB5BA" stroke-width="0.6"/><line x1="145.68" y1="378" x2="145.68" y2="473" stroke="#1AB5BA" stroke-width="0.65" stroke-dasharray="0.9 0.7"/><path d="M144.58 378H146.78M144.58 473H146.78" stroke="#1AB5BA" stroke-width="0.6"/><line x1="162.41" y1="434.9" x2="162.41" y2="462.3" stroke="#1AB5BA" stroke-width="0.65" stroke-dasharray="0.9 0.7"/><path d="M161.31 434.9H163.51M161.31 462.3H163.51" stroke="#1AB5BA" stroke-width="0.6"/><line x1="179.14" y1="368.7" x2="179.14" y2="432.7" stroke="#1AB5BA" stroke-width="0.65" stroke-dasharray="0.9 0.7"/><path d="M178.04 368.7H180.24M178.04 432.7H180.24" stroke="#1AB5BA" stroke-width="0.6"/><polyline points="41.1,479.3 57.83,477.5 74.56,474.7 91.29,464 108.02,428.8 124.75,461.9 141.48,471.2 158.21,460.2 174.94,441.9" fill="none" stroke="#F2776C" stroke-width="1.3" stroke-linejoin="round"/><circle cx="41.1" cy="479.3" r="1.15" fill="#F2776C"/><circle cx="57.83" cy="477.5" r="1.15" fill="#F2776C"/><circle cx="74.56" cy="474.7" r="1.15" fill="#F2776C"/><circle cx="91.29" cy="464" r="1.15" fill="#F2776C"/><circle cx="108.02" cy="428.8" r="1.15" fill="#F2776C"/><circle cx="124.75" cy="461.9" r="1.15" fill="#F2776C"/><circle cx="141.48" cy="471.2" r="1.15" fill="#F2776C"/><circle cx="158.21" cy="460.2" r="1.15" fill="#F2776C"/><circle cx="174.94" cy="441.9" r="1.15" fill="#F2776C"/><polyline points="45.3,445 62.03,442.9 78.76,446.7 95.49,456.5 112.22,419.2 128.95,429.3 145.68,426.3 162.41,451 179.14,400.7" fill="none" stroke="#1AB5BA" stroke-width="1.45" stroke-linejoin="round"/><circle cx="45.3" cy="445" r="1.15" fill="#1AB5BA"/><circle cx="62.03" cy="442.9" r="1.15" fill="#1AB5BA"/><circle cx="78.76" cy="446.7" r="1.15" fill="#1AB5BA"/><circle cx="95.49" cy="456.5" r="1.15" fill="#1AB5BA"/><circle cx="112.22" cy="419.2" r="1.15" fill="#1AB5BA"/><circle cx="128.95" cy="429.3" r="1.15" fill="#1AB5BA"/><circle cx="145.68" cy="426.3" r="1.15" fill="#1AB5BA"/><circle cx="162.41" cy="451" r="1.15" fill="#1AB5BA"/><circle cx="179.14" cy="400.7" r="1.15" fill="#1AB5BA"/><path d="M33.4 363.4V505.4H187.5" fill="none" stroke="#555555" stroke-width="0.9" stroke-dasharray="1.2 0.6"/><line x1="31.2" y1="393.3" x2="33.4" y2="393.3" stroke="#555555" stroke-width="0.8"/><text transform="translate(29.9,395.9) scale(0.8,1)" font-size="6.0" fill="#555555" text-anchor="end">0.7</text><line x1="31.2" y1="424.4" x2="33.4" y2="424.4" stroke="#555555" stroke-width="0.8"/><text transform="translate(29.9,427) scale(0.8,1)" font-size="6.0" fill="#555555" text-anchor="end">0.6</text><line x1="31.2" y1="455.8" x2="33.4" y2="455.8" stroke="#555555" stroke-width="0.8"/><text transform="translate(29.9,458.4) scale(0.8,1)" font-size="6.0" fill="#555555" text-anchor="end">0.5</text><line x1="31.2" y1="487.8" x2="33.4" y2="487.8" stroke="#555555" stroke-width="0.8"/><text transform="translate(29.9,490.4) scale(0.8,1)" font-size="6.0" fill="#555555" text-anchor="end">0.4</text><line x1="43.2" y1="505.4" x2="43.2" y2="507.4" stroke="#555555" stroke-width="0.8"/><text transform="translate(43.2,513) scale(0.8,1)" font-size="6.0" fill="#555555" text-anchor="middle">1</text><line x1="59.93" y1="505.4" x2="59.93" y2="507.4" stroke="#555555" stroke-width="0.8"/><text transform="translate(59.93,513) scale(0.8,1)" font-size="6.0" fill="#555555" text-anchor="middle">3</text><line x1="76.66" y1="505.4" x2="76.66" y2="507.4" stroke="#555555" stroke-width="0.8"/><text transform="translate(76.66,513) scale(0.8,1)" font-size="6.0" fill="#555555" text-anchor="middle">5</text><line x1="93.39" y1="505.4" x2="93.39" y2="507.4" stroke="#555555" stroke-width="0.8"/><text transform="translate(93.39,513) scale(0.8,1)" font-size="6.0" fill="#555555" text-anchor="middle">7</text><line x1="110.12" y1="505.4" x2="110.12" y2="507.4" stroke="#555555" stroke-width="0.8"/><text transform="translate(110.12,513) scale(0.8,1)" font-size="6.0" fill="#555555" text-anchor="middle">9</text><line x1="126.85" y1="505.4" x2="126.85" y2="507.4" stroke="#555555" stroke-width="0.8"/><text transform="translate(126.85,513) scale(0.8,1)" font-size="6.0" fill="#555555" text-anchor="middle">11</text><line x1="143.58" y1="505.4" x2="143.58" y2="507.4" stroke="#555555" stroke-width="0.8"/><text transform="translate(143.58,513) scale(0.8,1)" font-size="6.0" fill="#555555" text-anchor="middle">13</text><line x1="160.31" y1="505.4" x2="160.31" y2="507.4" stroke="#555555" stroke-width="0.8"/><text transform="translate(160.31,513) scale(0.8,1)" font-size="6.0" fill="#555555" text-anchor="middle">15</text><line x1="177.04" y1="505.4" x2="177.04" y2="507.4" stroke="#555555" stroke-width="0.8"/><text transform="translate(177.04,513) scale(0.8,1)" font-size="6.0" fill="#555555" text-anchor="middle">28</text><text transform="translate(109.8,520.2) scale(0.85,1)" font-size="7" fill="#333" text-anchor="middle">Day</text><text transform="translate(16.2,437.4) scale(0.82,1) rotate(-90)" font-size="6.4" fill="#333" text-anchor="middle">TB</text><text transform="translate(0.6,359.7) scale(0.85,1)" font-size="8.8" font-weight="bold" fill="#000">E</text><line x1="195.4" y1="435.6" x2="203.4" y2="435.6" stroke="#F2776C" stroke-width="1.8"/><circle cx="199.4" cy="435.6" r="1.3" fill="#F2776C"/><text transform="translate(207,437.7) scale(0.75,1)" font-size="6.4" fill="#2a2a2a">FNC</text><line x1="195.4" y1="446.2" x2="203.4" y2="446.2" stroke="#1AB5BA" stroke-width="1.8"/><circle cx="199.4" cy="446.2" r="1.3" fill="#1AB5BA"/><text transform="translate(207,448.3) scale(0.75,1)" font-size="6.4" fill="#2a2a2a">Placebo</text>
<line x1="262.55" y1="417.3" x2="262.55" y2="441.3" stroke="#F2776C" stroke-width="0.65" stroke-dasharray="0.9 0.7"/><path d="M261.45 417.3H263.65M261.45 441.3H263.65" stroke="#F2776C" stroke-width="0.6"/><line x1="279.18" y1="414.1" x2="279.18" y2="435.4" stroke="#F2776C" stroke-width="0.65" stroke-dasharray="0.9 0.7"/><path d="M278.08 414.1H280.28M278.08 435.4H280.28" stroke="#F2776C" stroke-width="0.6"/><line x1="295.81" y1="418.6" x2="295.81" y2="441.2" stroke="#F2776C" stroke-width="0.65" stroke-dasharray="0.9 0.7"/><path d="M294.71 418.6H296.91M294.71 441.2H296.91" stroke="#F2776C" stroke-width="0.6"/><line x1="312.44" y1="417.5" x2="312.44" y2="443.4" stroke="#F2776C" stroke-width="0.65" stroke-dasharray="0.9 0.7"/><path d="M311.34 417.5H313.54M311.34 443.4H313.54" stroke="#F2776C" stroke-width="0.6"/><line x1="329.07" y1="435.1" x2="329.07" y2="457.2" stroke="#F2776C" stroke-width="0.65" stroke-dasharray="0.9 0.7"/><path d="M327.97 435.1H330.17M327.97 457.2H330.17" stroke="#F2776C" stroke-width="0.6"/><line x1="345.7" y1="430.4" x2="345.7" y2="464.4" stroke="#F2776C" stroke-width="0.65" stroke-dasharray="0.9 0.7"/><path d="M344.6 430.4H346.8M344.6 464.4H346.8" stroke="#F2776C" stroke-width="0.6"/><line x1="362.33" y1="433.5" x2="362.33" y2="473" stroke="#F2776C" stroke-width="0.65" stroke-dasharray="0.9 0.7"/><path d="M361.23 433.5H363.43M361.23 473H363.43" stroke="#F2776C" stroke-width="0.6"/><line x1="378.96" y1="425.4" x2="378.96" y2="446.5" stroke="#F2776C" stroke-width="0.65" stroke-dasharray="0.9 0.7"/><path d="M377.86 425.4H380.06M377.86 446.5H380.06" stroke="#F2776C" stroke-width="0.6"/><line x1="395.59" y1="471.6" x2="395.59" y2="484.2" stroke="#F2776C" stroke-width="0.65" stroke-dasharray="0.9 0.7"/><path d="M394.49 471.6H396.69M394.49 484.2H396.69" stroke="#F2776C" stroke-width="0.6"/><line x1="266.65" y1="394.2" x2="266.65" y2="433.4" stroke="#1AB5BA" stroke-width="0.65" stroke-dasharray="0.9 0.7"/><path d="M265.55 394.2H267.75M265.55 433.4H267.75" stroke="#1AB5BA" stroke-width="0.6"/><line x1="283.28" y1="391.1" x2="283.28" y2="432" stroke="#1AB5BA" stroke-width="0.65" stroke-dasharray="0.9 0.7"/><path d="M282.18 391.1H284.38M282.18 432H284.38" stroke="#1AB5BA" stroke-width="0.6"/><line x1="299.91" y1="387.6" x2="299.91" y2="433.2" stroke="#1AB5BA" stroke-width="0.65" stroke-dasharray="0.9 0.7"/><path d="M298.81 387.6H301.01M298.81 433.2H301.01" stroke="#1AB5BA" stroke-width="0.6"/><line x1="316.54" y1="393.1" x2="316.54" y2="444.3" stroke="#1AB5BA" stroke-width="0.65" stroke-dasharray="0.9 0.7"/><path d="M315.44 393.1H317.64M315.44 444.3H317.64" stroke="#1AB5BA" stroke-width="0.6"/><line x1="333.17" y1="386.2" x2="333.17" y2="456.7" stroke="#1AB5BA" stroke-width="0.65" stroke-dasharray="0.9 0.7"/><path d="M332.07 386.2H334.27M332.07 456.7H334.27" stroke="#1AB5BA" stroke-width="0.6"/><line x1="349.8" y1="411.1" x2="349.8" y2="465" stroke="#1AB5BA" stroke-width="0.65" stroke-dasharray="0.9 0.7"/><path d="M348.7 411.1H350.9M348.7 465H350.9" stroke="#1AB5BA" stroke-width="0.6"/><line x1="366.43" y1="368.8" x2="366.43" y2="500.5" stroke="#1AB5BA" stroke-width="0.65" stroke-dasharray="0.9 0.7"/><path d="M365.33 368.8H367.53M365.33 500.5H367.53" stroke="#1AB5BA" stroke-width="0.6"/><line x1="383.06" y1="416.6" x2="383.06" y2="450.6" stroke="#1AB5BA" stroke-width="0.65" stroke-dasharray="0.9 0.7"/><path d="M381.96 416.6H384.16M381.96 450.6H384.16" stroke="#1AB5BA" stroke-width="0.6"/><line x1="399.69" y1="460" x2="399.69" y2="482.6" stroke="#1AB5BA" stroke-width="0.65" stroke-dasharray="0.9 0.7"/><path d="M398.59 460H400.79M398.59 482.6H400.79" stroke="#1AB5BA" stroke-width="0.6"/><polyline points="262.55,429 279.18,423.6 295.81,430.4 312.44,431.3 329.07,447 345.7,447.8 362.33,453.1 378.96,437 395.59,477.9" fill="none" stroke="#F2776C" stroke-width="1.3" stroke-linejoin="round"/><circle cx="262.55" cy="429" r="1.15" fill="#F2776C"/><circle cx="279.18" cy="423.6" r="1.15" fill="#F2776C"/><circle cx="295.81" cy="430.4" r="1.15" fill="#F2776C"/><circle cx="312.44" cy="431.3" r="1.15" fill="#F2776C"/><circle cx="329.07" cy="447" r="1.15" fill="#F2776C"/><circle cx="345.7" cy="447.8" r="1.15" fill="#F2776C"/><circle cx="362.33" cy="453.1" r="1.15" fill="#F2776C"/><circle cx="378.96" cy="437" r="1.15" fill="#F2776C"/><circle cx="395.59" cy="477.9" r="1.15" fill="#F2776C"/><polyline points="266.65,413.4 283.28,411.5 299.91,409.7 316.54,418.6 333.17,421.3 349.8,438.2 366.43,434.7 383.06,433 399.69,470.7" fill="none" stroke="#1AB5BA" stroke-width="1.45" stroke-linejoin="round"/><circle cx="266.65" cy="413.4" r="1.15" fill="#1AB5BA"/><circle cx="283.28" cy="411.5" r="1.15" fill="#1AB5BA"/><circle cx="299.91" cy="409.7" r="1.15" fill="#1AB5BA"/><circle cx="316.54" cy="418.6" r="1.15" fill="#1AB5BA"/><circle cx="333.17" cy="421.3" r="1.15" fill="#1AB5BA"/><circle cx="349.8" cy="438.2" r="1.15" fill="#1AB5BA"/><circle cx="366.43" cy="434.7" r="1.15" fill="#1AB5BA"/><circle cx="383.06" cy="433" r="1.15" fill="#1AB5BA"/><circle cx="399.69" cy="470.7" r="1.15" fill="#1AB5BA"/><path d="M254.4 363.1V506.7H407.2" fill="none" stroke="#555555" stroke-width="0.9" stroke-dasharray="1.2 0.6"/><line x1="252.2" y1="389.4" x2="254.4" y2="389.4" stroke="#555555" stroke-width="0.8"/><text transform="translate(250.9,391.8) scale(0.62,1)" font-size="5.8" fill="#555555" text-anchor="end">200</text><line x1="252.2" y1="417.7" x2="254.4" y2="417.7" stroke="#555555" stroke-width="0.8"/><text transform="translate(250.9,420.1) scale(0.62,1)" font-size="5.8" fill="#555555" text-anchor="end">150</text><line x1="252.2" y1="446" x2="254.4" y2="446" stroke="#555555" stroke-width="0.8"/><text transform="translate(250.9,448.4) scale(0.62,1)" font-size="5.8" fill="#555555" text-anchor="end">100</text><line x1="252.2" y1="474" x2="254.4" y2="474" stroke="#555555" stroke-width="0.8"/><text transform="translate(250.9,476.4) scale(0.62,1)" font-size="5.8" fill="#555555" text-anchor="end">50</text><line x1="252.2" y1="502.3" x2="254.4" y2="502.3" stroke="#555555" stroke-width="0.8"/><text transform="translate(250.9,504.7) scale(0.62,1)" font-size="5.8" fill="#555555" text-anchor="end">0</text><line x1="264.6" y1="506.7" x2="264.6" y2="508.7" stroke="#555555" stroke-width="0.8"/><text transform="translate(264.6,513) scale(0.62,1)" font-size="5.8" fill="#555555" text-anchor="middle">1</text><line x1="281.23" y1="506.7" x2="281.23" y2="508.7" stroke="#555555" stroke-width="0.8"/><text transform="translate(281.23,513) scale(0.62,1)" font-size="5.8" fill="#555555" text-anchor="middle">3</text><line x1="297.86" y1="506.7" x2="297.86" y2="508.7" stroke="#555555" stroke-width="0.8"/><text transform="translate(297.86,513) scale(0.62,1)" font-size="5.8" fill="#555555" text-anchor="middle">5</text><line x1="314.49" y1="506.7" x2="314.49" y2="508.7" stroke="#555555" stroke-width="0.8"/><text transform="translate(314.49,513) scale(0.62,1)" font-size="5.8" fill="#555555" text-anchor="middle">7</text><line x1="331.12" y1="506.7" x2="331.12" y2="508.7" stroke="#555555" stroke-width="0.8"/><text transform="translate(331.12,513) scale(0.62,1)" font-size="5.8" fill="#555555" text-anchor="middle">9</text><line x1="347.75" y1="506.7" x2="347.75" y2="508.7" stroke="#555555" stroke-width="0.8"/><text transform="translate(347.75,513) scale(0.62,1)" font-size="5.8" fill="#555555" text-anchor="middle">11</text><line x1="364.38" y1="506.7" x2="364.38" y2="508.7" stroke="#555555" stroke-width="0.8"/><text transform="translate(364.38,513) scale(0.62,1)" font-size="5.8" fill="#555555" text-anchor="middle">13</text><line x1="381.01" y1="506.7" x2="381.01" y2="508.7" stroke="#555555" stroke-width="0.8"/><text transform="translate(381.01,513) scale(0.62,1)" font-size="5.8" fill="#555555" text-anchor="middle">15</text><line x1="397.64" y1="506.7" x2="397.64" y2="508.7" stroke="#555555" stroke-width="0.8"/><text transform="translate(397.64,513) scale(0.62,1)" font-size="5.8" fill="#555555" text-anchor="middle">28</text><text transform="translate(331,520.3) scale(0.85,1)" font-size="7" fill="#333" text-anchor="middle">Day</text><text transform="translate(237.5,435.8) scale(0.82,1) rotate(-90)" font-size="6.4" fill="#333" text-anchor="middle">GGT</text><text transform="translate(222.6,359.9) scale(0.85,1)" font-size="8.8" font-weight="bold" fill="#000">F</text><line x1="416.6" y1="435.6" x2="424.6" y2="435.6" stroke="#F2776C" stroke-width="1.8"/><circle cx="420.6" cy="435.6" r="1.3" fill="#F2776C"/><text transform="translate(428,437.7) scale(0.75,1)" font-size="6.4" fill="#2a2a2a">FNC</text><line x1="416.6" y1="446.3" x2="424.6" y2="446.3" stroke="#1AB5BA" stroke-width="1.8"/><circle cx="420.6" cy="446.3" r="1.3" fill="#1AB5BA"/><text transform="translate(428,448.4) scale(0.75,1)" font-size="6.4" fill="#2a2a2a">Placebo</text>
</svg></body></html>
